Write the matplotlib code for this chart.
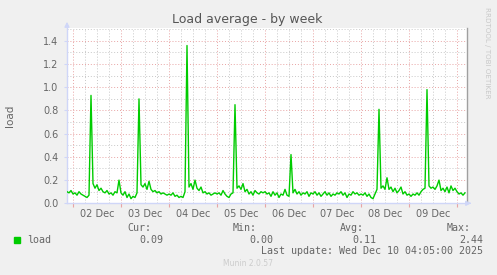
import numpy as np
import matplotlib
matplotlib.use("Agg")
import matplotlib.pyplot as plt

# ── Data (hourly load samples, hours relative to 02 Dec 00:00) ─────────────
pre = [0.10, 0.09, 0.11]
dec02 = [0.08, 0.09, 0.07, 0.10, 0.08, 0.07, 0.06, 0.05, 0.07, 0.93, 0.17, 0.13,
         0.16, 0.11, 0.13, 0.10, 0.09, 0.11, 0.08, 0.09, 0.07, 0.10, 0.09, 0.20]
dec03 = [0.09, 0.07, 0.10, 0.05, 0.08, 0.04, 0.06, 0.05, 0.09, 0.90, 0.16, 0.14,
         0.17, 0.12, 0.19, 0.12, 0.10, 0.11, 0.09, 0.10, 0.08, 0.09, 0.08, 0.07]
dec04 = [0.08, 0.07, 0.09, 0.06, 0.07, 0.05, 0.06, 0.05, 0.10, 1.36, 0.14, 0.17,
         0.12, 0.20, 0.13, 0.11, 0.14, 0.09, 0.10, 0.08, 0.09, 0.07, 0.08, 0.09]
dec05 = [0.08, 0.09, 0.07, 0.11, 0.08, 0.06, 0.05, 0.08, 0.09, 0.85, 0.13, 0.15,
         0.12, 0.17, 0.10, 0.12, 0.08, 0.10, 0.07, 0.11, 0.09, 0.08, 0.10, 0.09]
dec06 = [0.10, 0.08, 0.09, 0.06, 0.10, 0.07, 0.09, 0.05, 0.08, 0.07, 0.12, 0.07,
         0.06, 0.42, 0.09, 0.12, 0.08, 0.10, 0.07, 0.09, 0.08, 0.10, 0.06, 0.09]
dec07 = [0.08, 0.10, 0.07, 0.09, 0.06, 0.08, 0.10, 0.07, 0.09, 0.06, 0.08, 0.07,
         0.09, 0.08, 0.10, 0.07, 0.09, 0.05, 0.08, 0.07, 0.10, 0.08, 0.09, 0.07]
dec08 = [0.08, 0.07, 0.09, 0.06, 0.08, 0.05, 0.04, 0.08, 0.12, 0.81, 0.13, 0.15,
         0.12, 0.22, 0.12, 0.14, 0.10, 0.13, 0.09, 0.11, 0.14, 0.08, 0.10, 0.07]
dec09 = [0.08, 0.06, 0.08, 0.07, 0.09, 0.07, 0.10, 0.12, 0.13, 0.98, 0.15, 0.13,
         0.14, 0.12, 0.15, 0.20, 0.11, 0.13, 0.10, 0.14, 0.09, 0.15, 0.11, 0.13]
dec10 = [0.10, 0.08, 0.09, 0.07, 0.09]

day_labels = ["02 Dec", "03 Dec", "04 Dec", "05 Dec", "06 Dec", "07 Dec", "08 Dec", "09 Dec"]
y_ticks = [0.0, 0.2, 0.4, 0.6, 0.8, 1.0, 1.2, 1.4]

stats_head = ["Cur:", "Min:", "Avg:", "Max:"]
stats_vals = ["0.09", "0.00", "0.11", "2.44"]

load = pre + dec02 + dec03 + dec04 + dec05 + dec06 + dec07 + dec08 + dec09 + dec10
hours = np.arange(len(load)) - len(pre)

# ── Munin colours ──────────────────────────────────────────────────────────
BACK = "#F0F0F0"
FONT = "#666666"
AXIS = "#CFD6F8"
GREEN = "#00CC00"
GRID = "#C8C8C8"
MGRID = "#E8A4A4"

W, H = 497, 275
fig = plt.figure(figsize=(W / 100, H / 100), dpi=100, facecolor=BACK)
ax = fig.add_axes([67 / W, (H - 203.3) / H, 400 / W, 175.3 / H])
ax.set_facecolor("white")

ax.set_xlim(-3, 197)
ax.set_ylim(0, 1.511)

# grid: 6h minor grey, midnight major red; 0.1 grey, 0.2 red
for h in range(0, 197, 6):
    ax.axvline(h, color=MGRID if h % 24 == 0 else GRID, lw=0.7,
               ls=(0, (1, 2)), zorder=1)
for v in np.arange(0.1, 1.55, 0.1):
    major = round(v * 10) % 2 == 0
    ax.axhline(v, color=MGRID if major else GRID, lw=0.7, ls=(0, (1, 2)), zorder=1)

ax.plot(hours, load, color=GREEN, lw=1.0, zorder=3)

# axes
ax.spines["top"].set_visible(False)
ax.spines["left"].set_color(AXIS)
ax.spines["bottom"].set_color(AXIS)
ax.spines["right"].set_color("#A0A0A0")
for s in ax.spines.values():
    s.set_linewidth(1.0)

ax.set_yticks(y_ticks)
ax.set_yticklabels([f"{v:.1f}" for v in y_ticks])
ax.tick_params(axis="y", colors=AXIS, labelcolor=FONT, labelsize=7, length=2, pad=4)

ax.set_xticks(range(0, 193, 24))
ax.set_xticklabels([])
ax.tick_params(axis="x", colors=MGRID, length=3, width=0.8)
for i, lbl in enumerate(day_labels):
    ax.text(12 + 24 * i, -0.05, lbl, ha="center", va="top", fontsize=7,
            color=FONT, transform=ax.transData, clip_on=False)

ax.set_ylabel("load", color=FONT, fontsize=7.5)
ax.yaxis.set_label_coords(-0.13, 0.5)

# axis arrows
ax.annotate("", xy=(67, H - 19), xytext=(67, H - 28), xycoords="figure pixels",
            textcoords="figure pixels",
            arrowprops=dict(arrowstyle="-|>", color=AXIS, lw=1, mutation_scale=7))
ax.annotate("", xy=(474, H - 203.3), xytext=(467, H - 203.3), xycoords="figure pixels",
            textcoords="figure pixels",
            arrowprops=dict(arrowstyle="-|>", color=AXIS, lw=1, mutation_scale=7))

# title and side text
fig.text(247.5 / W, 1 - 19 / H, "Load average - by week", ha="center", va="center",
         fontsize=9, color="#555555")
fig.text(487.5 / W, 1 - 53 / H, "RRDTOOL / TOBI OETIKER", ha="center", va="center",
         rotation=270, fontsize=5.1, color="#C8C8C8")

# legend
mono = "DejaVu Sans Mono"
fig.patches.append(plt.Rectangle((14 / W, 1 - 243 / H), 6 / W, 6 / H,
                                 transform=fig.transFigure, color=GREEN))
fig.text(27 / W, 1 - 240 / H, "load", ha="left", va="center", fontsize=7.2,
         family=mono, color=FONT)
head_x = [127, 233, 340, 447]
val_x = [163, 273, 376, 483]
for hx, vx, hd, vl in zip(head_x, val_x, stats_head, stats_vals):
    fig.text(hx / W, 1 - 228 / H, hd, ha="left", va="center", fontsize=7.2,
             family=mono, color=FONT)
    fig.text(vx / W, 1 - 240 / H, vl, ha="right", va="center", fontsize=7.2,
             family=mono, color=FONT)
fig.text(483 / W, 1 - 251 / H, "Last update: Wed Dec 10 04:05:00 2025", ha="right",
         va="center", fontsize=7.2, family=mono, color=FONT)
fig.text(223 / W, 1 - 264 / H, "Munin 2.0.57", ha="left", va="center", fontsize=5.5,
         color="#CCCCCC")

fig.savefig("out.png", dpi=100, facecolor=BACK)
